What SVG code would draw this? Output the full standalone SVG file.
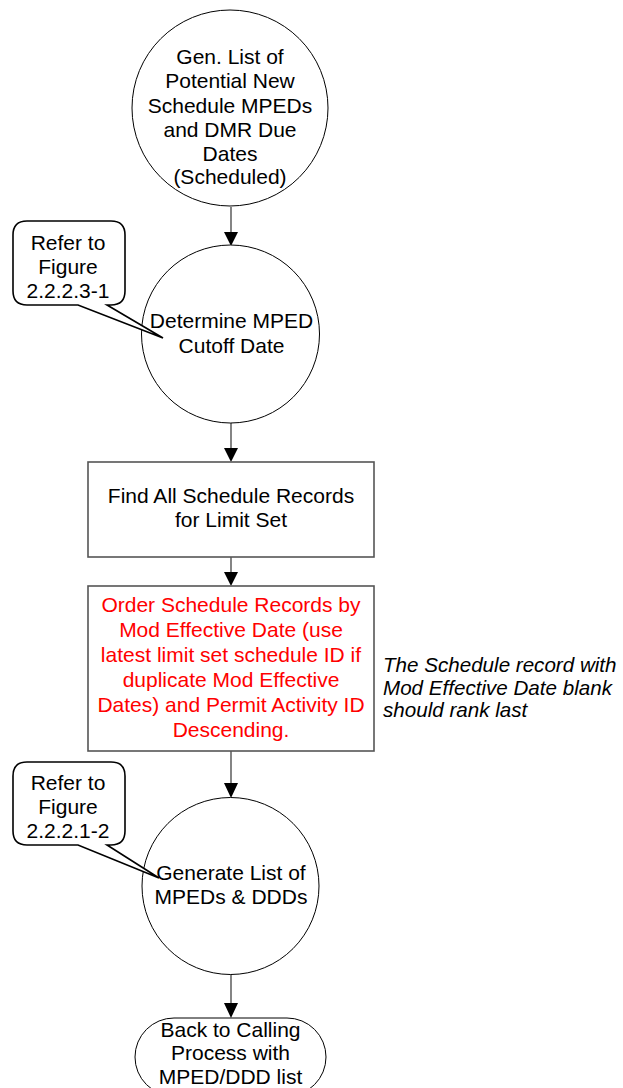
<svg xmlns="http://www.w3.org/2000/svg" width="623" height="1088" viewBox="0 0 623 1088">
  <style>
    text { font-family: "Liberation Sans", Arial, sans-serif; font-size: 21px; fill: #000; text-anchor: middle; }
    .red { fill: #ff0000; }
    .note { font-style: italic; font-size: 20.6px; text-anchor: start; }
    .circle { fill: #fff; stroke: #000; stroke-width: 1; }
    .box { fill: #fff; stroke: #555; stroke-width: 1.6; }
    .callout { fill: #fff; stroke: #000; stroke-width: 1.6; }
    .conn { stroke: #666; stroke-width: 1.6; fill: none; }
    .head { fill: #000; stroke: none; }
  </style>

  <!-- connectors -->
  <g id="connectors">
    <line class="conn" x1="231" y1="207" x2="231" y2="234"/>
    <polygon class="head" points="224,232 238,232 231,246"/>
    <line class="conn" x1="231" y1="423" x2="231" y2="450"/>
    <polygon class="head" points="224,448 238,448 231,462"/>
    <line class="conn" x1="231" y1="557" x2="231" y2="574"/>
    <polygon class="head" points="224,572 238,572 231,586"/>
    <line class="conn" x1="231" y1="751" x2="231" y2="784"/>
    <polygon class="head" points="224,783 238,783 231,798"/>
    <line class="conn" x1="231" y1="974" x2="231" y2="1005"/>
    <polygon class="head" points="224,1003 238,1003 231,1018"/>
  </g>

  <!-- start: generate list -->
  <g id="node-gen-list">
    <circle class="circle" cx="230" cy="108" r="98"/>
    <text x="230" y="64">Gen. List of</text>
    <text x="230" y="88">Potential New</text>
    <text x="230" y="112.5">Schedule MPEDs</text>
    <text x="230" y="137">and DMR Due</text>
    <text x="230" y="161">Dates</text>
    <text x="230" y="184">(Scheduled)</text>
  </g>

  <!-- determine cutoff date -->
  <g id="node-cutoff">
    <circle class="circle" cx="230.5" cy="334" r="89"/>
    <text x="231.5" y="328">Determine MPED</text>
    <text x="231.5" y="352.5">Cutoff Date</text>
  </g>

  <g id="callout-1">
    <path class="callout" d="M27,221 H111 Q125,221 125,235 V291 Q125,305 111,305 H107 L163,338 L78,305 H27 Q13,305 13,291 V235 Q13,221 27,221 Z"/>
    <text x="68" y="250">Refer to</text>
    <text x="68" y="274">Figure</text>
    <text x="68" y="298">2.2.2.3-1</text>
  </g>

  <!-- find records -->
  <g id="node-find-records">
    <rect class="box" x="88" y="462" width="286" height="95"/>
    <text x="231" y="503">Find All Schedule Records</text>
    <text x="231" y="527">for Limit Set</text>
  </g>

  <!-- order records -->
  <g id="node-order-records">
    <rect class="box" x="88" y="586" width="286" height="165"/>
    <text class="red" x="231" y="612">Order Schedule Records by</text>
    <text class="red" x="231" y="637">Mod Effective Date (use</text>
    <text class="red" x="231" y="662">latest limit set schedule ID if</text>
    <text class="red" x="231" y="687">duplicate Mod Effective</text>
    <text class="red" x="231" y="712">Dates) and Permit Activity ID</text>
    <text class="red" x="231" y="736.5">Descending.</text>
  </g>

  <g id="note-blank-date">
    <text class="note" x="383" y="672">The Schedule record with</text>
    <text class="note" x="383" y="695">Mod Effective Date blank</text>
    <text class="note" x="383" y="717">should rank last</text>
  </g>

  <!-- generate MPED list -->
  <g id="node-generate">
    <circle class="circle" cx="230.5" cy="886" r="88.5"/>
    <text x="231" y="880">Generate List of</text>
    <text x="231" y="904">MPEDs &amp; DDDs</text>
  </g>

  <g id="callout-2">
    <path class="callout" d="M27,762 H111 Q125,762 125,776 V831 Q125,845 111,845 H107 L159,878 L78,845 H27 Q13,845 13,831 V776 Q13,762 27,762 Z"/>
    <text x="68" y="790">Refer to</text>
    <text x="68" y="814">Figure</text>
    <text x="68" y="838">2.2.2.1-2</text>
  </g>

  <!-- end: return to caller -->
  <g id="node-return">
    <rect class="circle" x="135" y="1018" width="191" height="78" rx="39" ry="39"/>
    <text x="230.5" y="1036.5">Back to Calling</text>
    <text x="230.5" y="1060">Process with</text>
    <text x="230.5" y="1084">MPED/DDD list</text>
  </g>
</svg>
